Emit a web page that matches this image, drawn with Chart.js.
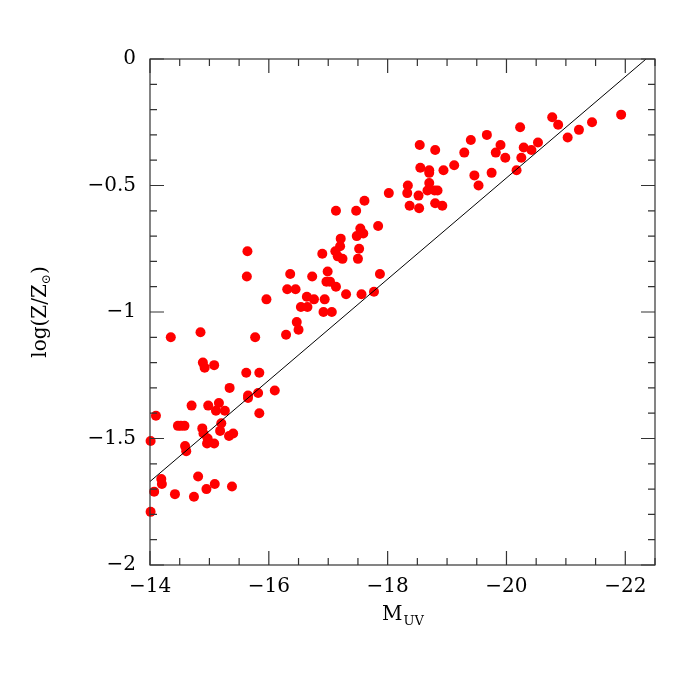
<html lang="en">
<head>
    <meta charset="UTF-8">
    <title>log(Z/Zsun) vs M_UV</title>
    <script src="https://cdn.jsdelivr.net/npm/chart.js@4.4.0/dist/chart.umd.min.js"></script>
    <style>
        body { margin: 0; background: #fff; }
    </style>
</head>
<body>
    <canvas id="myChart" width="692" height="692"></canvas>
    <script>
        // galaxies: UV magnitude and metallicity
        const magUV = [
            -14.35, -14.85, -15.77, -16.29, -16.47, -16.50, -14.89, -14.92, -15.08, -15.62,
            -15.84, -15.34, -15.65, -15.65, -15.82, -16.10, -14.70, -14.98, -15.16, -15.11,
            -15.26, -15.84, -14.10, -14.47, -14.52, -14.58, -14.88, -14.90, -15.20, -15.18,
            -14.97, -14.96, -15.08, -15.33, -15.40, -14.01, -14.59, -14.61, -14.19, -14.20,
            -14.81, -14.07, -14.42, -14.74, -14.95, -15.09, -15.38, -14.01,
            -15.64, -15.63, -15.96, -16.36, -16.31, -16.45, -16.73, -16.54, -16.65, -16.64,
            -16.76, -16.94, -16.92, -17.06, -16.90, -16.99, -16.97, -17.03, -17.13, -17.30,
            -17.56, -17.77, -17.87, -17.21, -17.20, -17.12, -17.16, -17.24, -17.48, -17.59,
            -17.52, -17.50,
            -18.34, -18.33, -18.52, -18.37, -18.53, -18.02, -17.61, -17.13, -17.47, -17.84,
            -17.54, -18.54, -18.80, -18.55, -18.70, -18.70, -18.94, -18.70, -18.67, -18.79,
            -18.84, -18.80, -18.92, -19.12, -19.29, -19.40, -19.67, -19.90, -19.82, -19.98,
            -19.46, -19.53, -19.75, -20.23, -20.29, -20.42, -20.53, -20.25, -20.17, -20.77,
            -20.87, -21.03, -21.22, -21.44, -21.93
        ];
        const logZ = [
            -1.10, -1.08, -1.10, -1.09, -1.04, -1.07, -1.20, -1.22, -1.21, -1.24,
            -1.24, -1.30, -1.33, -1.34, -1.32, -1.31, -1.37, -1.37, -1.36, -1.39,
            -1.39, -1.40, -1.41, -1.45, -1.45, -1.45, -1.46, -1.48, -1.44, -1.47,
            -1.50, -1.52, -1.52, -1.49, -1.48, -1.51, -1.53, -1.55, -1.66, -1.68,
            -1.65, -1.71, -1.72, -1.73, -1.70, -1.68, -1.69, -1.79,
            -0.76, -0.86, -0.95, -0.85, -0.91, -0.91, -0.86, -0.98, -0.98, -0.94,
            -0.95, -0.95, -1.00, -1.00, -0.77, -0.84, -0.88, -0.88, -0.90, -0.93,
            -0.93, -0.92, -0.85, -0.71, -0.74, -0.76, -0.78, -0.79, -0.70, -0.69,
            -0.75, -0.79,
            -0.50, -0.53, -0.54, -0.58, -0.59, -0.53, -0.56, -0.60, -0.60, -0.66,
            -0.67, -0.34, -0.36, -0.43, -0.44, -0.45, -0.44, -0.49, -0.52, -0.52,
            -0.52, -0.57, -0.58, -0.42, -0.37, -0.32, -0.30, -0.34, -0.37, -0.39,
            -0.46, -0.50, -0.45, -0.27, -0.35, -0.36, -0.33, -0.39, -0.44, -0.23,
            -0.26, -0.31, -0.28, -0.25, -0.22
        ];

        // the straight line drawn across the panel
        const fitM = [-14, -22.35];
        const fitZ = [-1.67, 0];

        const xTicks = [-14, -16, -18, -20, -22];
        const yTicks = [0, -0.5, -1, -1.5, -2];
        const xMinorStep = 0.5;
        const yMinorStep = 0.1;

        const points = magUV.map((m, i) => ({ x: m, y: logZ[i] }));
        const fitLine = fitM.map((m, i) => ({ x: m, y: fitZ[i] }));

        const serif = "'DejaVu Serif', 'Liberation Serif', serif";
        const fmt = v => (v < 0 ? '\u2212' + String(-v) : String(v));

        // frame, inward ticks on all four sides, and the axis titles
        const framePlugin = {
            id: 'frame_ticks',
            afterDraw: (chart) => {
                const ctx = chart.ctx;
                const a = chart.chartArea;
                const xs = chart.scales.x;
                const ys = chart.scales.y;
                ctx.save();
                ctx.strokeStyle = '#333';
                ctx.lineWidth = 1.2;
                ctx.strokeRect(a.left, a.top, a.right - a.left, a.bottom - a.top);

                ctx.beginPath();
                for (let v = -14; v >= -22.5; v -= xMinorStep) {
                    const px = xs.getPixelForValue(v);
                    const len = (Math.abs(v % 2) < 1e-6) ? 14 : 7;
                    ctx.moveTo(px, a.bottom); ctx.lineTo(px, a.bottom - len);
                    ctx.moveTo(px, a.top); ctx.lineTo(px, a.top + len);
                }
                for (let k = 0; k <= 20; k++) {
                    const v = -k * yMinorStep;
                    const py = ys.getPixelForValue(v);
                    const len = (k % 5 === 0) ? 14 : 7;
                    ctx.moveTo(a.left, py); ctx.lineTo(a.left + len, py);
                    ctx.moveTo(a.right, py); ctx.lineTo(a.right - len, py);
                }
                ctx.stroke();

                ctx.fillStyle = '#000';
                ctx.textBaseline = 'alphabetic';
                // x title: M with UV subscript
                ctx.font = '20px ' + serif;
                const cx = (a.left + a.right) / 2;
                const wM = ctx.measureText('M').width;
                ctx.font = '13px ' + serif;
                const wUV = ctx.measureText('UV').width;
                const x0 = cx - (wM + wUV) / 2;
                ctx.font = '20px ' + serif;
                ctx.textAlign = 'left';
                ctx.fillText('M', x0, 620);
                ctx.font = '13px ' + serif;
                ctx.fillText('UV', x0 + wM + 1, 625);

                // y title: log(Z/Z_sun)
                ctx.translate(46, (a.top + a.bottom) / 2);
                ctx.rotate(-Math.PI / 2);
                ctx.font = '20px ' + serif;
                const p1 = 'log(Z/Z', p3 = ')';
                const w1 = ctx.measureText(p1).width;
                const w3 = ctx.measureText(p3).width;
                ctx.font = '12px ' + serif;
                const w2 = ctx.measureText('\u2299').width;
                let sx = -(w1 + w2 + w3) / 2;
                ctx.font = '20px ' + serif;
                ctx.fillText(p1, sx, 0);
                ctx.font = '12px ' + serif;
                ctx.fillText('\u2299', sx + w1, 4);
                ctx.font = '20px ' + serif;
                ctx.fillText(p3, sx + w1 + w2, 0);
                ctx.restore();
            }
        };

        const ctx = document.getElementById('myChart').getContext('2d');
        const myChart = new Chart(ctx, {
            type: 'scatter',
            data: {
                datasets: [{
                    type: 'line',
                    data: fitLine,
                    borderColor: '#000',
                    borderWidth: 1,
                    pointRadius: 0,
                    fill: false
                }, {
                    data: points,
                    backgroundColor: '#ff0000',
                    borderColor: '#ff0000',
                    borderWidth: 0,
                    pointRadius: 5,
                    clip: false
                }]
            },
            plugins: [framePlugin],
            options: {
                responsive: false,
                animation: false,
                layout: { padding: { top: 59, right: 37, left: 0, bottom: 0 } },
                plugins: {
                    legend: { display: false },
                    tooltip: { enabled: false }
                },
                scales: {
                    x: {
                        type: 'linear',
                        reverse: true,
                        min: -22.5,
                        max: -14,
                        grid: { display: false, drawTicks: false },
                        border: { display: false },
                        afterBuildTicks: s => { s.ticks = xTicks.map(v => ({ value: v })); },
                        afterFit: s => { s.height = 127; },
                        ticks: {
                            padding: 10,
                            color: '#000',
                            font: { family: serif, size: 20 },
                            maxRotation: 0,
                            callback: v => fmt(v)
                        }
                    },
                    y: {
                        type: 'linear',
                        min: -2,
                        max: 0,
                        grid: { display: false, drawTicks: false },
                        border: { display: false },
                        afterBuildTicks: s => { s.ticks = yTicks.map(v => ({ value: v })); },
                        afterFit: s => { s.width = 150; },
                        ticks: {
                            padding: 14,
                            color: '#000',
                            font: { family: serif, size: 20 },
                            callback: v => fmt(v)
                        }
                    }
                }
            }
        });
    </script>
</body>
</html>
